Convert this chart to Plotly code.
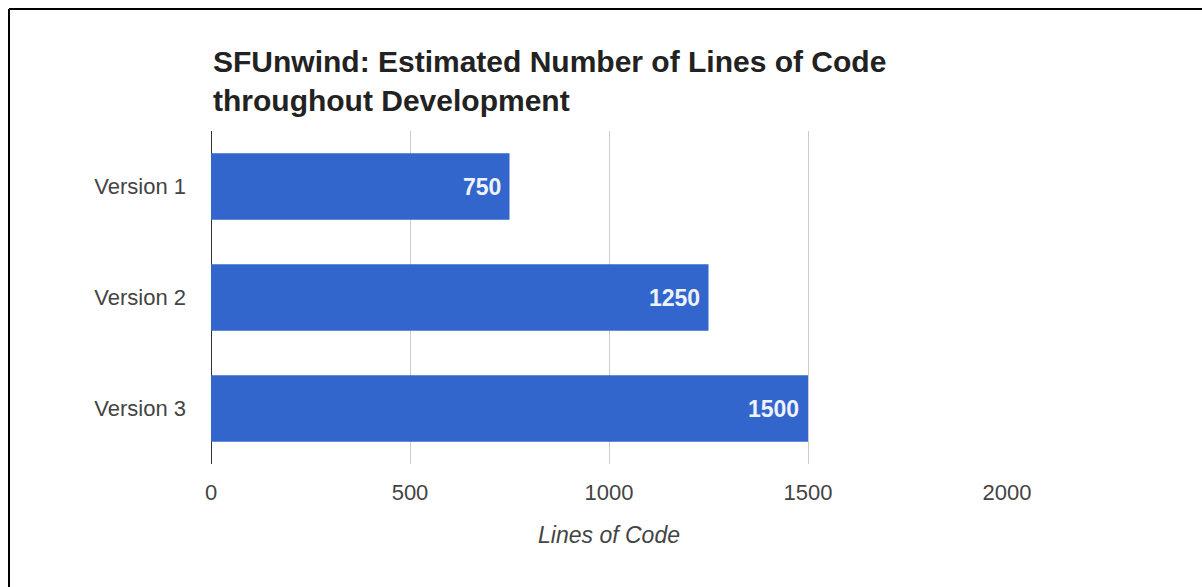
import plotly.graph_objects as go

# Data
versions = ["Version 1", "Version 2", "Version 3"]
lines_of_code = [750, 1250, 1500]
x_ticks = [0, 500, 1000, 1500, 2000]

W, H = 1202, 587
ML, MR, MT, MB = 211, 195, 131, 123
PW, PH = W - ML - MR, H - MT - MB

FONT = "Arial, 'Liberation Sans', sans-serif"

fig = go.Figure(
    go.Bar(
        x=lines_of_code,
        y=versions,
        orientation="h",
        marker=dict(color="#3366cc", line=dict(width=0)),
        hoverinfo="skip",
    )
)

# Value labels just inside the end of each bar
for cat, val in zip(versions, lines_of_code):
    fig.add_annotation(
        x=val, y=cat, xref="x", yref="y",
        text=f"<b>{val}</b>",
        showarrow=False,
        xanchor="right", yanchor="middle",
        xshift=-7,
        font=dict(family=FONT, size=23, color="#eef2fb"),
    )


def px_to_paper_x(px):
    return (px - ML) / PW


def px_to_paper_y(py):
    return (H - MB - py) / PH


# Frame lines along the top and left edges
fig.add_shape(type="line", xref="paper", yref="paper",
              x0=px_to_paper_x(9), x1=px_to_paper_x(W + 5),
              y0=px_to_paper_y(9), y1=px_to_paper_y(9),
              line=dict(color="black", width=2))
fig.add_shape(type="line", xref="paper", yref="paper",
              x0=px_to_paper_x(9), x1=px_to_paper_x(9),
              y0=px_to_paper_y(9), y1=px_to_paper_y(H + 5),
              line=dict(color="black", width=2))

fig.update_layout(
    width=W,
    height=H,
    margin=dict(l=ML, r=MR, t=MT, b=MB, pad=0),
    paper_bgcolor="white",
    plot_bgcolor="white",
    showlegend=False,
    bargap=0.4,
    title=dict(
        text="<b>SFUnwind: Estimated Number of Lines of Code<br>throughout Development</b>",
        font=dict(family=FONT, size=30, color="#222222"),
        xref="container",
        yref="container",
        x=213 / W,
        xanchor="left",
        y=1 - 72 / H,
        yanchor="middle",
    ),
    xaxis=dict(
        range=[0, 2000],
        tickvals=x_ticks,
        ticktext=[str(v) for v in x_ticks],
        showgrid=True,
        gridcolor="#cccccc",
        gridwidth=1,
        zeroline=True,
        zerolinecolor="#333333",
        zerolinewidth=1,
        showline=False,
        ticks="",
        ticklabelstandoff=13,
        tickfont=dict(family=FONT, size=22, color="#444444"),
        title=dict(
            text="<i>Lines of Code</i>",
            font=dict(family=FONT, size=23, color="#444444"),
            standoff=22,
        ),
        fixedrange=True,
    ),
    yaxis=dict(
        categoryorder="array",
        categoryarray=versions,
        autorange="reversed",
        showgrid=False,
        zeroline=False,
        showline=False,
        ticks="",
        ticklabelstandoff=24,
        tickfont=dict(family=FONT, size=22, color="#444444"),
        fixedrange=True,
    ),
)

fig.write_html("out.html")
